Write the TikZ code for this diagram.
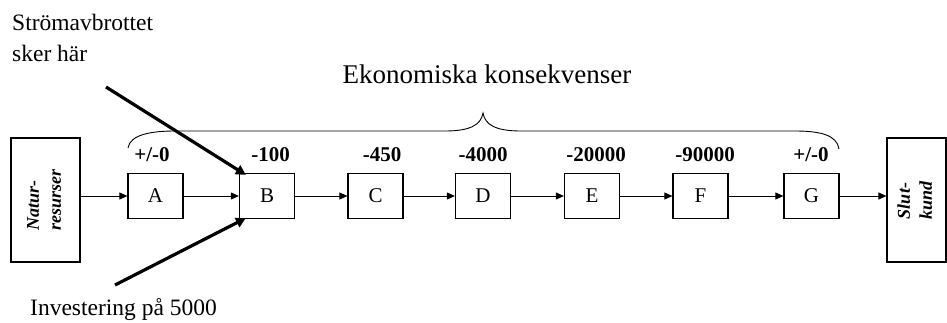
\documentclass[tikz,border=0pt]{standalone}
\usepackage{fontspec}
\setmainfont{Liberation Serif}
\usetikzlibrary{arrows.meta,calc}
\begin{document}
\begin{tikzpicture}[x=1pt,y=-1pt,
  box/.style={draw,line width=1.2pt,minimum width=55pt,minimum height=45pt,inner sep=0pt,font=\fontsize{21}{25}\selectfont},
  endbox/.style={draw,line width=1.2pt,minimum height=124pt,inner sep=0pt,font=\fontsize{18}{22}\selectfont\bfseries\itshape},
  cost/.style={font=\fontsize{21}{25}\selectfont\bfseries,inner sep=0pt,anchor=base},
  flow/.style={line width=0.9pt,-{Triangle[length=8pt,width=7pt]}},
  cause/.style={line width=3.2pt,-{Triangle[length=10pt,width=10pt]}},
  lbl/.style={font=\fontsize{23.5}{31}\selectfont,inner sep=0pt,align=left},
  brace/.style={line width=0.9pt}]
\useasboundingbox (0,0) rectangle (947,322);

% end boxes
\node[endbox,minimum width=69pt] (nat) at (45.5,200) {\rotatebox{90}{\begin{tabular}{@{}l@{}}Natur-\\resurser\end{tabular}}};
\node[endbox,minimum width=59pt] (slut) at (916.5,200) {\rotatebox{90}{\begin{tabular}{@{}l@{}}Slut-\\kund\end{tabular}}};

% chain boxes
\node[box] (a) at (155.5,196) {A};
\node[box] (b) at (267,196) {B};
\node[box] (c) at (375.5,196) {C};
\node[box] (d) at (483,196) {D};
\node[box] (e) at (592,196) {E};
\node[box] (f) at (700.5,196) {F};
\node[box] (g) at (811.5,196) {G};

% cost labels
\node[cost] (ca) at (152,161.5) {+/-0};
\node[cost] (cb) at (270.5,161.5) {-100};
\node[cost] (cc) at (382,161.5) {-450};
\node[cost] (cd) at (483,161.5) {-4000};
\node[cost] (ce) at (596,161.5) {-20000};
\node[cost] (cf) at (705,161.5) {-90000};
\node[cost] (cg) at (811,161.5) {+/-0};

% flow arrows
\draw[flow] (nat.east |- a.west) -- (a.west);
\draw[flow] (a) -- (b);
\draw[flow] (b) -- (c);
\draw[flow] (c) -- (d);
\draw[flow] (d) -- (e);
\draw[flow] (e) -- (f);
\draw[flow] (f) -- (g);
\draw[flow] (g.east) -- (slut.west |- g.east);

% brace
\draw[brace] (128,148) .. controls (130,135) and (150,131) .. (175,131) -- (445,131)
  .. controls (470,131) and (481,125) .. (483,113)
  .. controls (485,125) and (496,131) .. (521,131) -- (795,131)
  .. controls (820,131) and (837,135) .. (839,149);
\node[font=\fontsize{27}{31}\selectfont,inner sep=0pt,anchor=base] (title) at (487,83) {Ekonomiska konsekvenser};

% causes
\node[lbl,anchor=north west] (strom) at (12,14) {Strömavbrottet\\sker här};
\node[lbl,anchor=base west] (inv) at (30,315) {Investering på 5000};
\coordinate (s1) at (106,87);
\coordinate (s2) at (115,285);
\draw[cause] (s1) -- ($(b.north west)+(7,2)$);
\draw[cause] (s2) -- ($(b.south west)+(7,-1)$);
\end{tikzpicture}
\end{document}
